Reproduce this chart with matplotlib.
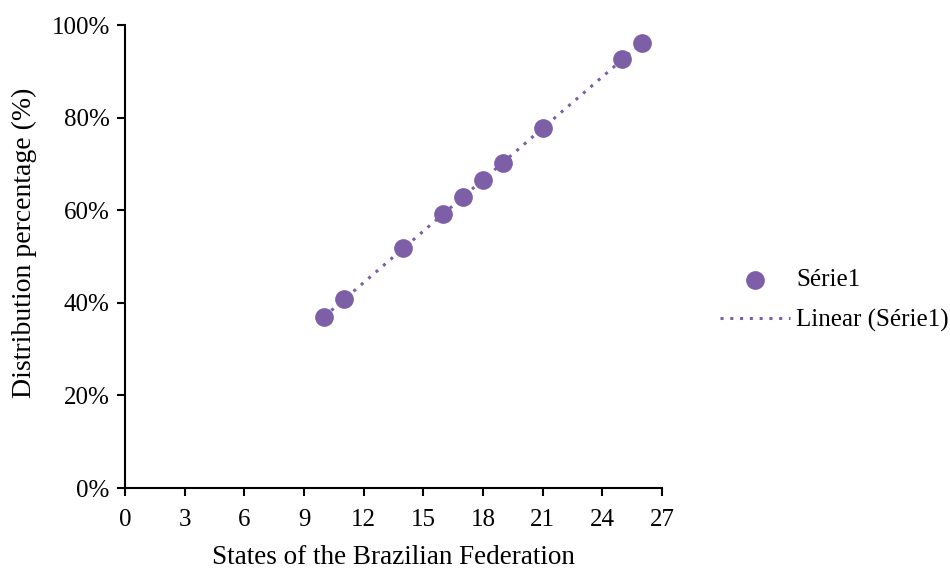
import numpy as np
import matplotlib.pyplot as plt
from matplotlib.ticker import PercentFormatter

# data
states = [10, 11, 14, 16, 17, 18, 19, 21, 25, 26]
distribution = [36.9, 40.8, 51.8, 59.2, 62.9, 66.5, 70.2, 77.8, 92.7, 96.1]

x_ticks = list(range(0, 28, 3))
y_ticks = [0, 20, 40, 60, 80, 100]

purple = "#7d5fa8"

plt.rcParams["font.family"] = ["Liberation Serif", "DejaVu Serif"]

fig = plt.figure(figsize=(9.5, 5.73), dpi=100)
ax = fig.add_axes([0.1316, 0.1483, 0.5653, 0.808])

ax.scatter(states, distribution, s=155, color=purple, zorder=3, label="Série1")

# linear trendline (Excel-style) fitted to the series
slope, intercept = np.polyfit(states, distribution, 1)
xs = np.array([min(states), max(states)])
ax.plot(xs, slope * xs + intercept, linestyle=(0, (1, 2.2)), linewidth=2.2,
        color=purple, label="Linear (Série1)", zorder=2)

ax.set_xlim(0, 27)
ax.set_ylim(0, 100)
ax.set_xticks(x_ticks)
ax.set_yticks(y_ticks)
ax.yaxis.set_major_formatter(PercentFormatter(decimals=0))

for side in ("top", "right"):
    ax.spines[side].set_visible(False)
for side in ("left", "bottom"):
    ax.spines[side].set_linewidth(1.5)
ax.tick_params(direction="out", length=6, width=1.5, labelsize=18)
ax.tick_params(axis="x", pad=9)
ax.tick_params(axis="y", pad=5)

ax.set_xlabel("States of the Brazilian Federation", fontsize=19.5, labelpad=10)
ax.set_ylabel("Distribution percentage (%)", fontsize=20)
ax.yaxis.set_label_coords(-0.163, 0.53)

ax.legend(loc="upper left", bbox_to_anchor=(0.745, 0.553),
          bbox_transform=fig.transFigure, frameon=False, borderpad=0,
          fontsize=18, handlelength=2.8, handletextpad=0.25, labelspacing=0.7)

fig.savefig("out.png", dpi=100)
